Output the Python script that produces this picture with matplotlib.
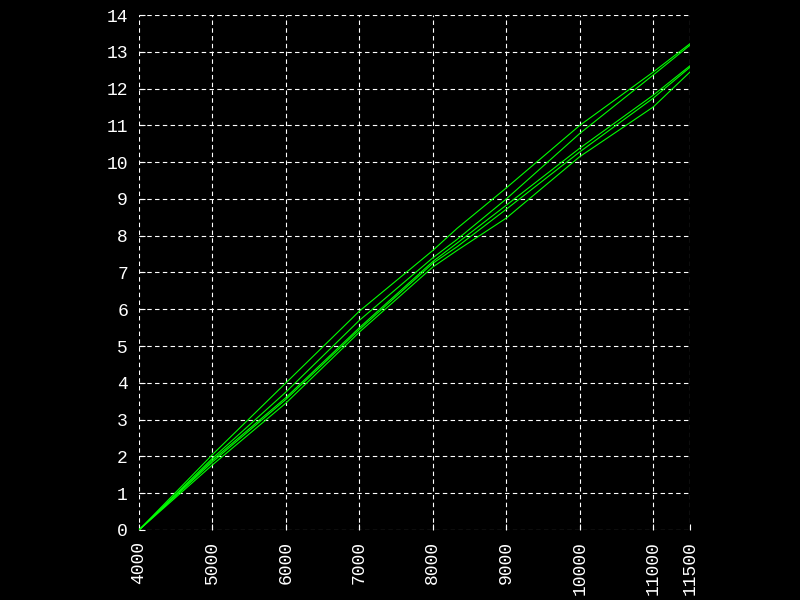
import matplotlib
matplotlib.use("Agg")
import matplotlib.pyplot as plt

# sample positions (x axis)
x_vals = [4000, 5000, 6000, 7000, 8000, 8330, 9000, 10000, 11000, 11500]

# five curves
curve_a = [0, 2.05, 4.00, 5.95, 7.60, 8.20, 9.30, 11.00, 12.45, 13.22]
curve_b = [0, 1.95, 3.75, 5.70, 7.40, 7.90, 9.00, 10.78, 12.37, 13.18]
curve_c = [0, 1.90, 3.60, 5.50, 7.30, 7.80, 8.83, 10.38, 11.82, 12.62]
curve_d = [0, 1.85, 3.55, 5.45, 7.25, 7.70, 8.72, 10.28, 11.74, 12.58]
curve_e = [0, 1.77, 3.45, 5.38, 7.15, 7.60, 8.48, 10.15, 11.50, 12.45]

x_ticks = [4000, 5000, 6000, 7000, 8000, 9000, 10000, 11000, 11500]
y_ticks = list(range(0, 15))

fig = plt.figure(figsize=(8, 6), dpi=100, facecolor="black")
ax = fig.add_axes([0.17375, 0.1167, 0.68875, 0.8583])
ax.set_facecolor("black")

for curve in [curve_a, curve_b, curve_c, curve_d, curve_e]:
    ax.plot(x_vals, curve, color="#00ff00", linewidth=0.8)

ax.set_xlim(4000, 11500)
ax.set_ylim(0, 14)
ax.set_xticks(x_ticks)
ax.set_yticks(y_ticks)
ax.set_xticklabels([str(t) for t in x_ticks], rotation=90)

for s in ax.spines.values():
    s.set_visible(False)

ax.grid(True, color="white", linestyle=(0, (4, 3)), linewidth=0.8)
ax.tick_params(colors="white", direction="in", length=4, width=0.8,
               labelsize=13, pad=8)
for lab in ax.get_xticklabels() + ax.get_yticklabels():
    lab.set_family("Liberation Mono")
    lab.set_color("white")

fig.savefig("out.png", dpi=100, facecolor="black")
